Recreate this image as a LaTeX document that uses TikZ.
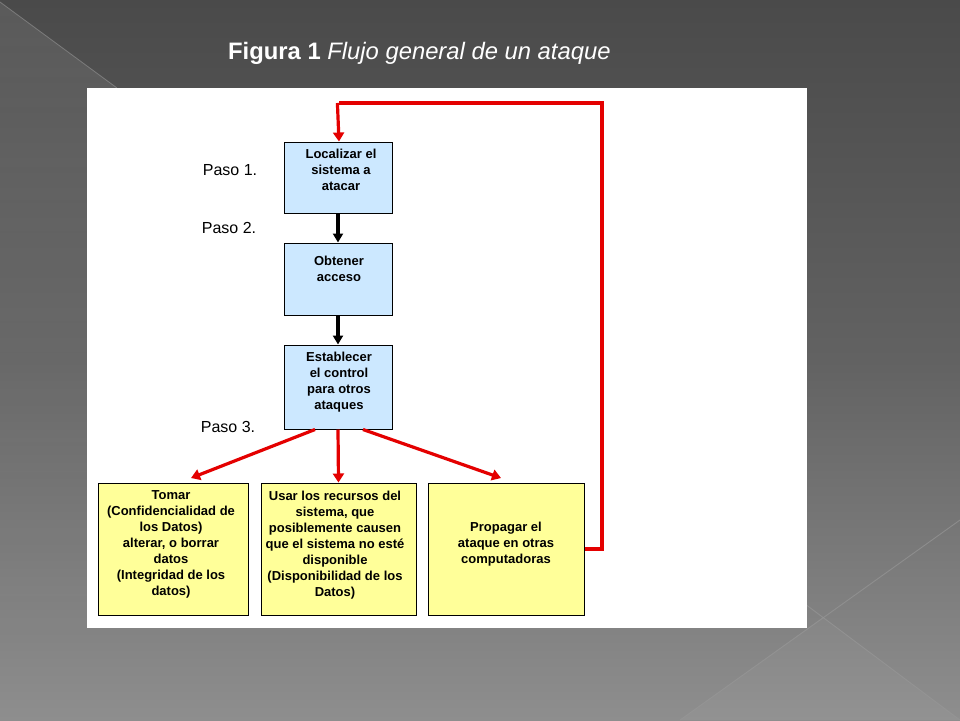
\documentclass[tikz,border=0pt]{standalone}
\usepackage{fontspec}
\setmainfont{Liberation Sans}
\usetikzlibrary{arrows.meta,fadings}
\definecolor{bgtop}{RGB}{74,74,74}
\definecolor{bgmid}{RGB}{98,98,98}
\definecolor{bgbot}{RGB}{142,142,142}
\definecolor{boxblue}{RGB}{204,232,255}
\definecolor{boxyellow}{RGB}{255,255,153}
\definecolor{arrred}{RGB}{228,0,0}
\definecolor{decoline}{RGB}{150,150,150}
\tikzset{
  stepbox/.style={draw=black, line width=1pt, fill=boxblue, minimum width=108pt, inner sep=0pt},
  resbox/.style={draw=black, line width=1pt, fill=boxyellow, inner sep=0pt},
  boxtxt/.style={font=\fontsize{13}{16}\selectfont\bfseries, align=center, inner sep=0pt, anchor=north},
  pasotxt/.style={font=\fontsize{16}{18}\selectfont, text=black, inner sep=0pt},
  blackarr/.style={draw=black, line width=3.2pt, -{Triangle[length=9pt,width=10pt]}},
  redarr/.style={draw=arrred, line width=3.2pt, -{Triangle[length=9pt,width=11pt]}},
  redline/.style={draw=arrred, line width=3.2pt}
}
\begin{document}
\begin{tikzpicture}[x=1pt,y=-1pt]
\useasboundingbox (0,0) rectangle (960,720);
% background
\shade[top color=bgtop, bottom color=bgbot, middle color=bgmid] (0,0) rectangle (960,720);
\fill[white, opacity=0.09, path fading=south] (0,2) -- (117,88) -- (87,88) -- (87,700) -- (0,700) -- cycle;
\draw[decoline, line width=0.8pt, opacity=0.6] (0,2) -- (117,88);
\fill[white, opacity=0.04] (823,617) -- (960,720) -- (680,720) -- cycle;
\draw[decoline, line width=0.9pt, opacity=0.7] (680,720) -- (960,520);
\draw[decoline, line width=0.9pt, opacity=0.7] (777,583) -- (960,720);
% white panel
\fill[white] (87,88) rectangle (807,628);
% title
\node[anchor=base west, inner sep=0pt, text=white, font=\fontsize{23.8}{27}\selectfont] (title) at (228,59)
  {\textbf{Figura 1} \textit{Flujo general de un ataque}};
% step boxes
\node[stepbox, minimum height=71pt] (b1) at (338,177.5) {};
\node[stepbox, minimum height=72pt] (b2) at (338,279) {};
\node[stepbox, minimum height=84pt] (b3) at (338,387) {};
\node[boxtxt] (t1) at (341,149) {Localizar el\\sistema a\\atacar};
\node[boxtxt] (t2) at (339,256) {Obtener\\acceso};
\node[boxtxt] (t3) at (339,352) {Establecer\\el control\\para otros\\ataques};
% paso labels
\node[pasotxt] (p1) at (230,170) {Paso 1.};
\node[pasotxt] (p2) at (229,228) {Paso 2.};
\node[pasotxt] (p3) at (228,427) {Paso 3.};
% result boxes
\node[resbox, minimum width=150pt, minimum height=132pt] (r1) at (173,549) {};
\node[resbox, minimum width=155pt, minimum height=132pt] (r2) at (338.5,549) {};
\node[resbox, minimum width=156pt, minimum height=132pt] (r3) at (506,549) {};
\node[boxtxt] (rt1) at (171,490) {Tomar\\(Confidencialidad de\\los Datos)\\alterar, o borrar\\datos\\(Integridad de los\\datos)};
\node[boxtxt] (rt2) at (335,491) {Usar los recursos del\\sistema, que\\posiblemente causen\\que el sistema no esté\\disponible\\(Disponibilidad de los\\Datos)};
\node[boxtxt] (rt3) at (506,522) {Propagar el\\ataque en otras\\computadoras};
% black arrows
\draw[blackarr] (b1.south) -- (b2.north);
\draw[blackarr] (b2.south) -- (b3.north);
% red arrows
\coordinate (s1) at ([xshift=-23pt]b3.south);
\coordinate (s3) at ([xshift=25pt]b3.south);
\coordinate (e1) at (191,478);
\coordinate (e3) at (501,478);
\draw[redarr] (s1) -- (e1);
\draw[redarr] (b3.south) -- (r2.north);
\draw[redarr] (s3) -- (e3);
% feedback loop
\coordinate (c1) at (602,549);
\coordinate (c2) at (602,103);
\coordinate (c3) at (339,103);
\draw[redline, line join=miter] (r3.east) -- (c1) -- (c2) -- (c3);
\draw[redarr] ([xshift=-1.6pt]c3) -- ([xshift=1pt]b1.north);
\end{tikzpicture}
\end{document}
